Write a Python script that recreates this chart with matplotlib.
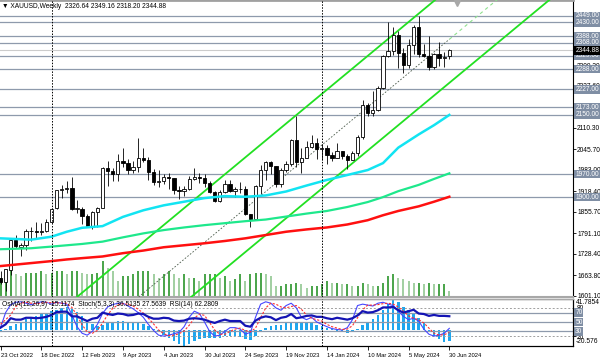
#!/usr/bin/env python3
"""XAUUSD weekly chart, MT4 style, with EMAs, channel and an oscillator pane."""

import matplotlib
matplotlib.use("Agg")
import matplotlib.pyplot as plt
from matplotlib import font_manager
from matplotlib.patches import Rectangle
from matplotlib.transforms import blended_transform_factory

_names = {f.name for f in font_manager.fontManager.ttflist}
if "Liberation Sans Narrow" in _names:
    plt.rcParams["font.family"] = ["Liberation Sans Narrow", "DejaVu Sans"]
    FS, FS_DATE = 5.6, 5.0
else:
    plt.rcParams["font.family"] = ["Liberation Sans", "DejaVu Sans"]
    FS, FS_DATE = 4.8, 4.2

# weekly bars, 23 Oct 2022 .. 30 Jun 2024
OPEN = [1656, 1644, 1680, 1769, 1750, 1754, 1797, 1797, 1793, 1798, 1824, 1866, 1920, 1926, 1928,
        1865, 1865, 1842, 1811, 1855, 1868, 1989, 1978, 1969, 2008, 2004, 1983, 1990, 2017, 2011,
        1977, 1946, 1948, 1961, 1957, 1921, 1919, 1925, 1955, 1962, 1959, 1943, 1914, 1889, 1915,
        1940, 1919, 1924, 1925, 1849, 1833, 1933, 1981, 2006, 1993, 1940, 1981, 2001, 2072, 2005,
        2019, 2053, 2063, 2045, 2049, 2029, 2018, 2039, 2024, 2013, 2035, 2083, 2179, 2155, 2165,
        2230, 2329, 2344, 2392, 2337, 2301, 2360, 2415, 2333, 2327, 2293, 2333, 2322, 2326.64]
HIGH = [1675, 1681, 1772, 1786, 1760, 1804, 1810, 1824, 1823, 1833, 1866, 1922, 1937, 1949, 1960,
        1890, 1870, 1848, 1858, 1870, 1990, 2010, 1988, 2032, 2048, 2015, 2009, 2079, 2048, 2022,
        1985, 1983, 1971, 1972, 1959, 1933, 1935, 1963, 1987, 1974, 1970, 1948, 1917, 1921, 1953,
        1953, 1932, 1947, 1935, 1850, 1938, 1998, 2009, 2010, 1993, 1988, 2008, 2075, 2146, 2048,
        2070, 2088, 2079, 2062, 2057, 2036, 2065, 2041, 2031, 2041, 2088, 2195, 2185, 2222, 2236,
        2330, 2431, 2417, 2403, 2353, 2378, 2422, 2450, 2364, 2388, 2337, 2369, 2340, 2349.16]
LOW = [1638, 1616, 1663, 1747, 1721, 1739, 1767, 1774, 1785, 1795, 1823, 1865, 1896, 1911, 1861,
       1852, 1819, 1809, 1804, 1809, 1868, 1934, 1950, 1950, 1992, 1969, 1974, 1977, 2007, 1952,
       1937, 1932, 1939, 1925, 1910, 1893, 1902, 1921, 1953, 1942, 1930, 1911, 1885, 1885, 1912,
       1915, 1901, 1913, 1846, 1810, 1831, 1908, 1953, 1970, 1932, 1931, 1975, 1994, 1990, 1973,
       2017, 2048, 2016, 2013, 2001, 2010, 2017, 2014, 1984, 2012, 2024, 2077, 2146, 2146, 2162,
       2228, 2325, 2330, 2292, 2277, 2291, 2334, 2325, 2324, 2286, 2287, 2296, 2293, 2318.20]
CLOSE = [1644, 1681, 1771, 1751, 1754, 1797, 1797, 1793, 1798, 1824, 1865, 1920, 1926, 1928, 1865,
         1865, 1842, 1811, 1855, 1868, 1989, 1978, 1969, 2008, 2004, 1983, 1990, 2017, 2011, 1977,
         1946, 1948, 1961, 1957, 1921, 1919, 1925, 1955, 1962, 1959, 1943, 1914, 1889, 1915, 1940,
         1919, 1924, 1925, 1849, 1833, 1933, 1981, 2006, 1993, 1940, 1981, 2001, 2072, 2005, 2019,
         2053, 2063, 2045, 2049, 2029, 2018, 2039, 2024, 2013, 2035, 2083, 2179, 2155, 2165, 2230,
         2329, 2344, 2392, 2337, 2301, 2360, 2415, 2333, 2327, 2293, 2333, 2322, 2326, 2344.88]
# tick volume (chart units)
VOLUME = [19, 25, 28, 23, 21, 24, 24, 24, 26, 23, 24, 26, 26, 23, 26, 26, 24, 23, 23, 24, 36, 29,
          26, 16, 21, 21, 23, 26, 26, 26, 23, 19, 23, 26, 23, 19, 23, 19, 19, 16, 23, 23, 23, 19,
          21, 16, 18, 23, 16, 23, 24, 24, 23, 21, 11, 11, 13, 13, 14, 13, 9, 11, 11, 13, 16, 14,
          14, 13, 13, 11, 11, 14, 13, 11, 11, 14, 21, 23, 19, 18, 16, 14, 14, 13, 14, 13, 13, 13, 6]

TICK_BARS = [0, 8, 16, 24, 32, 40, 48, 56, 64, 72, 80, 88]
TICK_LABELS = ["23 Oct 2022", "18 Dec 2022", "12 Feb 2023", "9 Apr 2023", "4 Jun 2023",
               "30 Jul 2023", "24 Sep 2023", "19 Nov 2023", "14 Jan 2024", "10 Mar 2024",
               "5 May 2024", "30 Jun 2024"]
SEPARATOR_BARS = [10, 63]

# moving averages
MA_BARS = [0, 6, 10, 13, 16, 20, 24, 28, 32, 36, 40, 44, 48, 52, 56, 60, 64, 68, 72, 75, 78, 82, 85, 88]
EMA_FAST = [1775, 1771, 1780, 1795, 1807, 1812, 1840, 1860, 1875, 1886, 1897, 1903, 1901, 1905,
            1917, 1935, 1952, 1967, 1982, 2003, 2050, 2090, 2118, 2149]
EMA_MID = [1742, 1745, 1750, 1754, 1758, 1765, 1778, 1790, 1800, 1808, 1815, 1821, 1827, 1832,
           1841, 1850, 1858, 1870, 1885, 1900, 1918, 1937, 1955, 1972]
EMA_SLOW = [1691, 1700, 1706, 1711, 1715, 1720, 1730, 1738, 1748, 1754, 1760, 1767, 1775, 1785,
            1795, 1802, 1808, 1817, 1830, 1845, 1858, 1872, 1886, 1901]

# regression channel: centre line anchors and band offsets
CHANNEL_BARS = [14, 88]
CHANNEL_MID = [1429.5, 2378.2]
CHANNEL_UP = 155.0
CHANNEL_DN = -132.0

LEVELS = [2449, 2430, 2388, 2368, 2329, 2288, 2227, 2173, 2150, 1970, 1900]
PRICE_TICKS = [1601.10, 1663.80, 1728.40, 1791.10, 1855.70, 1918.40, 1983.00, 2045.70,
               2110.30, 2173.00, 2237.60, 2300.30, 2364.90, 2427.60]
# tick labels that sit under a level box on the reference
HIDDEN_TICKS = [2173.00, 2364.90, 2427.60]

OSMA = [-2, 1, 5, 8, 11, 14, 17, 19, 21, 23, 25, 27, 29, 30, 28, 24, 19, 13, 8, 5, 7, 9, 11, 12,
        12, 11, 10, 10, 8, 5, 1, -3, -6, -10, -14, -18, -20.576, -18, -15, -12, -10, -10, -11,
        -10, -8, -8, -8, -9, -12, -13, -8, -2, 3, 5, 6, 7, 9, 11, 11, 9, 9, 9, 7, 5, 3, 1, -1,
        -3, -4, -3, 1, 6, 10, 15, 20, 26, 34, 41.7854, 37, 30, 26, 22, 16, 9, -3, -8, -12, -16,
        -15.1174]
STOCH_MAIN = [38, 70, 87, 92, 93, 90, 87, 90, 93, 92, 88, 92, 90, 88, 65, 40, 26, 22, 30, 45, 68,
              82, 87, 90, 90, 84, 78, 70, 60, 45, 32, 22, 20, 22, 25, 28, 40, 60, 73, 68, 50, 30,
              20, 22, 30, 38, 38, 35, 24, 28, 60, 88, 93, 90, 80, 75, 85, 90, 80, 60, 55, 60, 50,
              45, 40, 36, 34, 33, 38, 55, 85, 88, 86, 84, 90, 92, 88, 85, 73, 62, 55, 58, 52, 35,
              24, 20, 22, 26, 36.5135]
STOCH_SIGNAL = [45, 55, 65, 83, 90, 92, 90, 89, 90, 92, 91, 91, 90, 90, 81, 64, 44, 29, 26, 32,
                48, 65, 79, 86, 89, 88, 84, 77, 69, 58, 46, 33, 25, 21, 22, 25, 31, 43, 58, 67, 64,
                49, 33, 24, 24, 30, 35, 37, 32, 29, 37, 59, 80, 90, 88, 82, 80, 83, 85, 77, 65, 58,
                55, 52, 45, 40, 37, 34, 35, 42, 59, 76, 86, 86, 87, 89, 90, 88, 82, 73, 63, 58, 55,
                48, 37, 26, 22, 23, 27.5639]
RSI = [38, 45, 58, 55, 55, 59, 59, 58, 59, 61, 65, 71, 72, 72, 62, 62, 57, 52, 57, 59, 70, 67, 65,
       68, 67, 64, 65, 68, 67, 61, 57, 57, 59, 58, 53, 52, 53, 57, 58, 57, 55, 51, 48, 52, 55, 52,
       52, 52, 42, 40, 53, 59, 62, 60, 54, 59, 61, 67, 58, 60, 63, 64, 61, 61, 58, 56, 59, 57, 55,
       58, 64, 73, 70, 71, 75, 81, 81, 82, 75, 70, 73, 76, 68, 67, 63, 65, 63, 63, 62.28]
OSC_LEVELS = [70, 50, 30]
STOCH_LEVELS = [80, 20]

W, H = 600, 358
LEVEL_COLOR = "#8e9aac"
BOX_COLOR = "#7f8ea4"


def px_rect(x0, y0, x1, y1):
    return [x0 / W, 1 - y1 / H, (x1 - x0) / W, (y1 - y0) / H]


def box(fc):
    return dict(boxstyle="square,pad=0.12", fc=fc, ec="none")


def main():
    n = len(CLOSE)
    bars = list(range(n))
    fig = plt.figure(figsize=(W / 100, H / 100), dpi=100)
    ax = fig.add_axes(px_rect(0, 0, 573, 297))
    axi = fig.add_axes(px_rect(0, 298.5, 573, 345.5), sharex=ax)
    xlim = (-0.1, 112.25)
    ax.set_xlim(*xlim)
    ax.set_ylim(1597.2, 2497.4)

    # horizontal levels
    for lvl in LEVELS:
        ax.axhline(lvl, color=LEVEL_COLOR, lw=0.9, zorder=1)
    ax.axhline(CLOSE[-1], color="#cccccc", lw=0.8, zorder=1)

    # volumes along the bottom
    vol_tr = blended_transform_factory(ax.transData, ax.transAxes)
    for i, v in enumerate(VOLUME):
        up = i == 0 or v >= VOLUME[i - 1]
        ax.vlines(i, 0, v / 297, transform=vol_tr, color="#3a9d3a" if up else "#9acb9a",
                  lw=1.3, zorder=2)

    # channel
    slope = (CHANNEL_MID[1] - CHANNEL_MID[0]) / (CHANNEL_BARS[1] - CHANNEL_BARS[0])
    x_end = xlim[1]
    mid_end = CHANNEL_MID[1] + slope * (x_end - CHANNEL_BARS[1])
    ax.plot(CHANNEL_BARS, CHANNEL_MID, color="#4a5a4a", lw=0.6, ls=(0, (2, 2)), zorder=3)
    ax.plot([CHANNEL_BARS[1], x_end], [CHANNEL_MID[1], mid_end], color="#8fe08f", lw=0.8,
            ls=(0, (3, 3)), zorder=3)
    for off in (CHANNEL_UP, CHANNEL_DN):
        ax.plot([CHANNEL_BARS[0], x_end], [CHANNEL_MID[0] + off, mid_end + off],
                color="#22e022", lw=1.3, zorder=3)

    # candles
    for i in bars:
        o, h, l, c = OPEN[i], HIGH[i], LOW[i], CLOSE[i]
        ax.vlines(i, l, h, color="black", lw=0.6, zorder=4)
        bottom = min(o, c)
        height = max(abs(c - o), 1.2)
        ax.add_patch(Rectangle((i - 0.32, bottom), 0.64, height,
                               facecolor="white" if c >= o else "black",
                               edgecolor="black", lw=0.6, zorder=5))

    # moving averages
    ax.plot(MA_BARS, EMA_FAST, color="#12e4f2", lw=1.8, zorder=6)
    ax.plot(MA_BARS, EMA_MID, color="#1ee88c", lw=1.6, zorder=6)
    ax.plot(MA_BARS, EMA_SLOW, color="#ff1010", lw=1.8, zorder=6)

    for b in SEPARATOR_BARS:
        ax.axvline(b, color="black", lw=0.7, ls=(0, (1.5, 1.5)), zorder=7)
        axi.axvline(b, color="black", lw=0.7, ls=(0, (1.5, 1.5)), zorder=7)

    # price axis
    ax.yaxis.tick_right()
    ax.set_yticks(PRICE_TICKS)
    ax.set_yticklabels(["" if v in HIDDEN_TICKS else f"{v:.2f}" for v in PRICE_TICKS], fontsize=FS)
    ax.tick_params(axis="y", length=2, width=0.6, pad=1.0)
    ax.tick_params(axis="x", bottom=False, labelbottom=False)
    lvl_tr = blended_transform_factory(ax.transAxes, ax.transData)
    for lvl in LEVELS:
        ax.text(1.004, lvl, f"{lvl:.2f}", transform=lvl_tr, fontsize=FS, color="white",
                va="center", ha="left", clip_on=False, zorder=10, bbox=box(BOX_COLOR))
    ax.text(1.004, CLOSE[-1], f"{CLOSE[-1]:.2f}", transform=lvl_tr, fontsize=FS, color="white",
            va="center", ha="left", clip_on=False, zorder=11, bbox=box("black"))
    ax.spines["left"].set_visible(False)
    ax.spines["right"].set_linewidth(0.8)
    ax.spines["top"].set_color("#a0a0a0")
    ax.spines["top"].set_linewidth(2)
    ax.spines["bottom"].set_color("#a8a8a8")
    ax.spines["bottom"].set_linewidth(1.5)
    ax.plot([n - 1 + 1.5], [0.99], transform=vol_tr, marker="v", color="#a8a8a8", ms=4,
            clip_on=False, zorder=9)
    ax.text(0.004, 0.99,
            f"\u25BC XAUUSD,Weekly  {OPEN[-1]:.2f} {HIGH[-1]:.2f} {LOW[-1]:.2f} {CLOSE[-1]:.2f}",
            transform=ax.transAxes, fontsize=FS, va="top", ha="left", zorder=12)

    # oscillator pane
    axo = axi.twinx()
    axo.set_ylim(-20.576, 41.7854)
    axo.bar(bars, OSMA, width=0.5, color="#1ea6ee", zorder=2)
    axo.set_yticks([])
    axi.set_zorder(axo.get_zorder() + 1)
    axi.patch.set_visible(False)
    axi.set_ylim(0, 100)
    for lvl in OSC_LEVELS:
        axi.axhline(lvl, color=LEVEL_COLOR, lw=0.9, zorder=1)
    for lvl in STOCH_LEVELS:
        axi.axhline(lvl, color="#a0a0a0", lw=0.7, ls=(0, (2, 2)), zorder=1)
    axi.plot(bars, STOCH_MAIN, color="#4646ff", lw=0.8, zorder=3)
    axi.plot(bars, STOCH_SIGNAL, color="#ff3030", lw=0.8, ls=(0, (2, 1.5)), zorder=3)
    axi.plot(bars, RSI, color="#1414b4", lw=1.6, zorder=4)
    axi.text(0.004, 0.94, f"OsMA(12,26,9) {OSMA[-1]:.4f}  Stoch(5,3,3) {STOCH_MAIN[-1]:.4f} "
             f"{STOCH_SIGNAL[-1]:.4f}  RSI(14) 62.2809", transform=axi.transAxes, fontsize=FS,
             va="top", ha="left")

    axi.yaxis.tick_right()
    axi.set_yticks(STOCH_LEVELS)
    axi.set_yticklabels([str(v) for v in STOCH_LEVELS], fontsize=FS)
    axi.tick_params(axis="y", length=2, width=0.6, pad=1.0)
    osc_tr = blended_transform_factory(axi.transAxes, axi.transData)
    for lvl in OSC_LEVELS:
        axi.text(1.004, lvl, str(lvl), transform=osc_tr, fontsize=FS, color="white", va="center",
                 ha="left", clip_on=False, zorder=10, bbox=box(BOX_COLOR))
    axi.text(1.005, 0.99, "41.7854", transform=axi.transAxes, fontsize=FS, va="top", ha="left")
    axi.text(1.005, 0.01, "-20.576", transform=axi.transAxes, fontsize=FS, va="bottom", ha="left")

    axi.set_xticks(TICK_BARS)
    axi.set_xticklabels(TICK_LABELS, fontsize=FS_DATE, ha="left")
    axi.tick_params(axis="x", length=3, width=0.6, pad=2.5)
    for a in (axi, axo):
        a.spines["left"].set_visible(False)
        a.spines["top"].set_color("#a8a8a8")
        a.spines["top"].set_linewidth(1.0)
        a.spines["right"].set_linewidth(0.8)
        a.spines["bottom"].set_linewidth(0.8)

    fig.savefig("out.png", dpi=100)
    plt.close(fig)


if __name__ == "__main__":
    main()
